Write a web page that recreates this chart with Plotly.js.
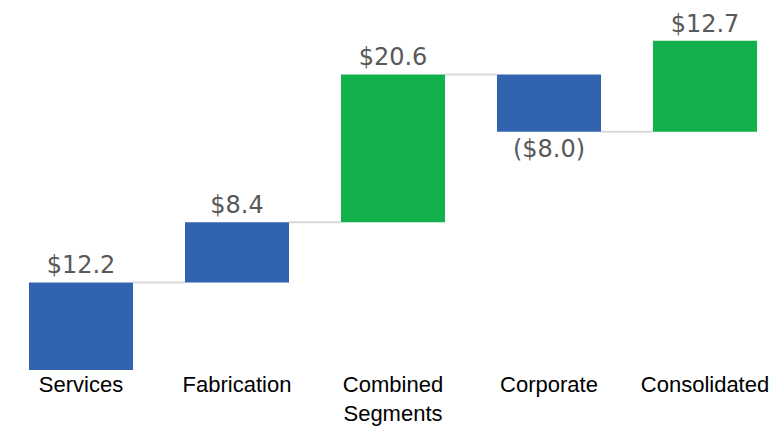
<!DOCTYPE html>
<html>
<head>
<meta charset="utf-8">
<script src="https://cdn.plot.ly/plotly-3.0.1.min.js"></script>
<style>html,body{margin:0;padding:0;background:#fff;}#chart{width:783px;height:428px;}</style>
</head>
<body>
<div id="chart"></div>
<script>
var categories = ["Services", "Fabrication", "Combined<br>Segments", "Corporate", "Consolidated"];
var values = [12.2, 8.4, 20.6, -8.0, 12.7];
var barColors = ["#3163AF", "#3163AF", "#13B14B", "#3163AF", "#13B14B"];

var xs = categories.map(function (c, i) { return i; });
var bases = [];
var ends = [];
var running = 0;
values.forEach(function (v) { bases.push(running); running += v; ends.push(running); });
var labels = values.map(function (v) {
  return v < 0 ? "($" + Math.abs(v).toFixed(1) + ")" : "$" + v.toFixed(1);
});

var barWidth = 0.667;
var cx = [], cy = [];
for (var i = 0; i < values.length - 1; i++) {
  cx.push(xs[i] + barWidth / 2, xs[i + 1] - barWidth / 2, null);
  cy.push(ends[i], ends[i], null);
}

var connectors = {
  type: "scatter", mode: "lines", x: cx, y: cy,
  line: { color: "#D9D9D9", width: 2 }, hoverinfo: "skip", showlegend: false
};

var bars = {
  type: "bar", x: xs, y: values, base: bases, width: barWidth,
  marker: { color: barColors, line: { width: 0 } },
  text: labels, textposition: "outside", cliponaxis: false,
  textfont: { family: "DejaVu Sans", size: 24, color: "#595959" },
  hoverinfo: "skip", showlegend: false
};

var layout = {
  width: 783, height: 428,
  margin: { l: 3, r: 0, t: 1, b: 58 },
  paper_bgcolor: "#ffffff", plot_bgcolor: "#ffffff",
  showlegend: false,
  xaxis: {
    range: [-0.5, 4.5], tickmode: "array", tickvals: xs, ticktext: categories,
    showgrid: false, zeroline: false, showline: false,
    ticks: "", ticklabelstandoff: -1,
    tickfont: { family: "Liberation Sans, Arial, sans-serif", size: 22, color: "#000000" }
  },
  yaxis: {
    range: [0, 51.44], visible: false, showgrid: false, zeroline: false
  }
};

Plotly.newPlot("chart", [connectors, bars], layout, { displayModeBar: false, staticPlot: true });
</script>
</body>
</html>
